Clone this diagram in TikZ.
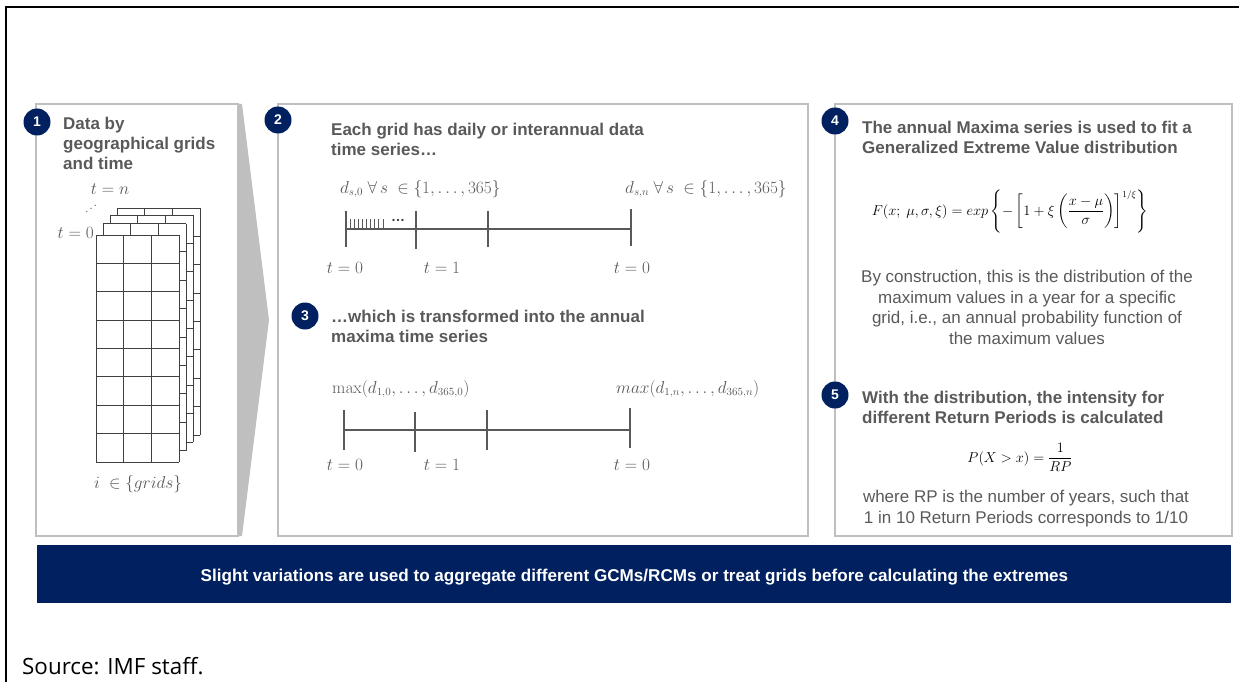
\documentclass[tikz,border=0pt]{standalone}
\usepackage{amsmath}
\usepackage[no-math]{fontspec}
\setmainfont{Liberation Sans}
\newfontfamily\srcfont{Open Sans}
\usepackage{graphicx}
\definecolor{navy}{HTML}{002060}
\definecolor{txtgray}{HTML}{595959}
\definecolor{boxgray}{HTML}{BFBFBF}
\definecolor{gridgray}{HTML}{404040}
\tikzset{
  box/.style={draw=boxgray, line width=1.6pt},
  numcirc/.style={circle, fill=navy, text=white, font=\bfseries\fontsize{14}{14}\selectfont, minimum size=27pt, inner sep=0pt},
  titletext/.style={anchor=north west, inner sep=0pt, align=left, text=txtgray, font=\bfseries\fontsize{17}{20}\selectfont},
  bodytext/.style={anchor=north, inner sep=0pt, align=center, text=txtgray, font=\fontsize{17}{20.7}\selectfont},
  mlabel/.style={inner sep=0pt, text=txtgray, font=\fontsize{16}{18}\selectfont},
  formula/.style={inner sep=0pt, text=black},
  tline/.style={draw=txtgray, line width=1.3pt},
  gridline/.style={draw=gridgray, line width=0.9pt},
}
\begin{document}
\begin{tikzpicture}[x=1pt,y=-1pt]
\useasboundingbox (0,0) rectangle (1239,682);
% outer frame
\draw[line width=2.5pt] (6,682) -- (6,7) -- (1239,7);
% boxes
\draw[box] (36,104) rectangle (238,536);
\fill[boxgray] (238,104) -- (242,104) -- (269,320) -- (242,536) -- (238,536) -- cycle;
\draw[box] (278,104) rectangle (808,536);
\draw[box] (835,104) rectangle (1232,536);
% banner
\node[fill=navy, minimum width=1194pt, minimum height=58pt, inner sep=0pt, anchor=north west] (banner) at (37,545) {};
\node[anchor=base, inner sep=0pt, text=white, font=\bfseries\fontsize{17.1}{19}\selectfont] (bantext) at (634.5,581)
  {Slight variations are used to aggregate different GCMs/RCMs or treat grids before calculating the extremes};
% source
\node[anchor=base west, inner sep=0pt, font=\srcfont\fontsize{22.4}{26}\selectfont] (src) at (22,674) {Source: IMF staff.};
% number circles
\node[numcirc] (c1) at (37,122) {1};
\node[numcirc] (c2) at (278,120) {2};
\node[numcirc] (c3) at (305,316) {3};
\node[numcirc] (c4) at (835,121) {4};
\node[numcirc] (c5) at (835,395) {5};
% titles
\node[titletext] (t1) at (63,116.8) {Data by\\geographical grids\\and time};
\node[titletext] (t2) at (331,122.8) {Each grid has daily or interannual data\\time series…};
\node[titletext] (t3) at (331,310) {…which is transformed into the annual\\maxima time series};
\node[titletext] (t4) at (862,121) {The annual Maxima series is used to fit a\\Generalized Extreme Value distribution};
\node[titletext] (t5) at (862,391) {With the distribution, the intensity for\\different Return Periods is calculated};
% body texts
\node[bodytext] (b4) at (1027,269.8) {By construction, this is the distribution of the\\maximum  values in a year for a specific\\grid, i.e., an annual probability function of\\the maximum  values};
\node[bodytext] (b5) at (1026,489.8) {where RP is the number of years, such that\\1 in 10 Return Periods corresponds to 1/10};
% formulas
\node[formula, anchor=base, font=\fontsize{13.4}{16}\selectfont] (fF) at (1010,215) {$F(x;\ \mu,\sigma,\xi) = exp\left\{-\left[1+\xi\left(\dfrac{x-\mu}{\sigma}\right)\right]^{1/\xi}\right\}$};
\node[formula, anchor=base, font=\fontsize{14}{16}\selectfont] (fP) at (1020,462) {$P(X > x) = \dfrac{1}{RP}$};
% grid stack
\foreach \dx/\dy in {21/-27, 14/-20, 7/-11.5, 0/0} {
  \begin{scope}[shift={(96+\dx,235+\dy)}]
    \fill[white] (0,0) rectangle (83,227);
    \foreach \i in {0,...,3} \draw[gridline] (\i*27.667,0) -- (\i*27.667,227);
    \foreach \j in {0,...,8} \draw[gridline] (0,\j*28.375) -- (83,\j*28.375);
  \end{scope}
}
\node[mlabel, anchor=base] (tn) at (110,194) {$t = n$};
\node[mlabel, font=\fontsize{11}{12}\selectfont] (vd) at (91,206) {\reflectbox{$\ddots$}};
\node[mlabel, anchor=base east] (tz) at (94,238) {$t = 0$};
\node[mlabel, anchor=base] (ig) at (138,488) {$i\ \in \{grids\}$};
% timeline 1
\draw[tline] (346,229) -- (631,229);
\draw[tline] (346,211) -- (346,247);
\draw[tline] (416,211) -- (416,249);
\draw[tline] (488,211) -- (488,247);
\draw[tline] (631,209) -- (631,246);
\foreach \i in {1,...,9} \draw[draw=txtgray, line width=0.8pt] (346+\i*4.1,219) -- (346+\i*4.1,229);
\node[inner sep=0pt, text=gridgray, font=\bfseries\fontsize{14}{14}\selectfont] (ell) at (398,220) {…};
\node[mlabel, anchor=base west] (d0) at (340,193) {$d_{s,0}\ \forall\, s\ \in \{1,\dots,365\}$};
\node[mlabel, anchor=base west] (dn) at (625,193) {$d_{s,n}\ \forall\, s\ \in \{1,\dots,365\}$};
\node[mlabel, anchor=base] (l10) at (345,273) {$t = 0$};
\node[mlabel, anchor=base] (l11) at (442,273) {$t = 1$};
\node[mlabel, anchor=base] (l12) at (632,273) {$t = 0$};
% timeline 2
\draw[tline] (344,430) -- (630,430);
\draw[tline] (344,410) -- (344,450);
\draw[tline] (415,412) -- (415,452);
\draw[tline] (487,410) -- (487,450);
\draw[tline] (630,408) -- (630,448);
\node[mlabel, anchor=base west] (m0) at (332,393) {$\max(d_{1,0},\dots,d_{365,0})$};
\node[mlabel, anchor=base west] (mn) at (616,393) {$max(d_{1,n},\dots,d_{365,n})$};
\node[mlabel, anchor=base] (l20) at (345,470) {$t = 0$};
\node[mlabel, anchor=base] (l21) at (442,470) {$t = 1$};
\node[mlabel, anchor=base] (l22) at (632,470) {$t = 0$};
\end{tikzpicture}
\end{document}
